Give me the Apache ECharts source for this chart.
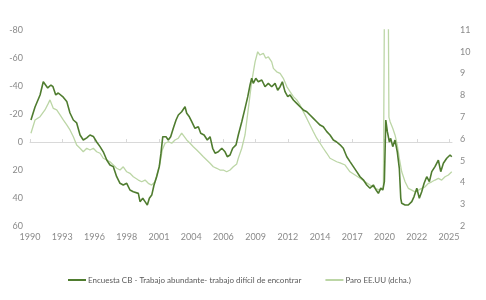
<!DOCTYPE html>
<html>
<head>
<meta charset="utf-8">
<script src="https://cdn.jsdelivr.net/npm/echarts@6/dist/echarts.min.js"></script>
<style>html,body{margin:0;padding:0;background:#fff;}#c{width:486px;height:300px;}</style>
</head>
<body>
<div id="c"></div>
<script>
// X tick labels (evenly spaced across 1990–2025)
var tickLabels = ['1990','1993','1996','1998','2001','2004','2006','2009','2012','2014','2017','2020','2022','2025'];

// Encuesta CB (left axis, inverted)
var cbYears = [1990.08,1990.42,1990.84,1991.11,1991.25,1991.48,1991.75,1991.92,1992.15,1992.36,1992.78,1993.07,1993.34,1993.62,1993.90,1994.18,1994.45,1994.74,1995.01,1995.29,1995.57,1995.85,1996.12,1996.41,1996.68,1996.96,1997.24,1997.52,1997.79,1998.08,1998.35,1998.63,1999.05,1999.19,1999.42,1999.61,1999.80,1999.97,2000.17,2000.36,2000.58,2000.80,2000.94,2001.09,2001.19,2001.36,2001.55,2001.75,2001.97,2002.20,2002.39,2002.67,2002.81,2002.95,2003.09,2003.31,2003.51,2003.78,2004.06,2004.26,2004.54,2004.81,2005.04,2005.26,2005.46,2005.73,2006.02,2006.29,2006.48,2006.71,2006.93,2007.21,2007.40,2007.69,2007.96,2008.19,2008.38,2008.52,2008.65,2008.86,2009.07,2009.36,2009.63,2009.91,2010.19,2010.47,2010.69,2010.89,2011.08,2011.30,2011.53,2011.72,2012.00,2012.28,2012.56,2012.83,2013.12,2013.39,2013.67,2013.95,2014.23,2014.50,2014.79,2015.06,2015.34,2015.62,2015.90,2016.17,2016.46,2016.73,2017.01,2017.29,2017.57,2017.84,2018.13,2018.40,2018.68,2018.91,2019.10,2019.30,2019.47,2019.60,2019.72,2019.85,2020.02,2020.13,2020.30,2020.49,2020.68,2020.85,2020.97,2021.05,2021.33,2021.60,2021.75,2021.89,2022.08,2022.31,2022.52,2022.72,2022.92,2023.14,2023.36,2023.56,2023.83,2024.11,2024.31,2024.53,2024.81,2025.09,2025.23];
var cbValues = [-15.7,-25,-33.6,-43,-44,-38.6,-40.7,-39.5,-33.6,-35,-32,-29,-20.7,-15.7,-13.6,-5,-1.4,-3,-5,-4,0,3.3,7,12.9,16.4,17.6,24.8,29.5,30.7,29.5,34.3,35.5,36.7,42.6,40.2,42.6,45,40.2,37.9,30.7,24.8,17.6,8,-3.8,-5,-3.8,-1.4,-3.8,-9.8,-15.7,-19.3,-21.6,-21.6,-25.2,-20.5,-18,-14.5,-9.8,-10.9,-6.2,-5,-1.4,-3.8,4.5,8,7,4.5,7,10.5,9.3,4.5,2.1,-5,-14.5,-24,-32.4,-40.7,-45.5,-41.9,-45.5,-43,-44.3,-39.5,-41.9,-39.5,-41.9,-37,-39.5,-43,-36,-32.4,-33.6,-30,-27.6,-25.2,-22.9,-21.6,-19.3,-16.9,-14.5,-12.1,-10.9,-7.4,-5,-1.4,0,2,4.5,10.5,14,17.6,21.2,24.8,27,30.7,33,30.7,34.3,36.7,33,34.3,28.3,-15.7,-7.4,0,-2.6,3.3,-1.4,7,18.8,40.2,43.8,45,45,46.2,42.6,39,33,40.2,35.5,29.5,24.8,28.3,21.2,17.6,12.9,21.2,15.2,11.6,9.3,10.5];

// Paro EE.UU (right axis)
var uYears = [1990.08,1990.42,1990.84,1991.25,1991.53,1991.67,1991.95,1992.23,1992.51,1992.78,1993.07,1993.34,1993.62,1993.90,1994.18,1994.45,1994.74,1995.01,1995.29,1995.57,1995.85,1996.12,1996.41,1996.68,1996.96,1997.24,1997.52,1997.79,1998.08,1998.35,1998.63,1998.77,1999.05,1999.33,1999.61,1999.88,2000.17,2000.44,2000.63,2000.86,2001.05,2001.28,2001.55,2001.84,2002.11,2002.39,2002.67,2002.81,2003.09,2003.37,2003.64,2003.93,2004.20,2004.48,2004.76,2005.04,2005.31,2005.60,2005.87,2006.15,2006.43,2006.71,2006.98,2007.27,2007.40,2007.69,2007.96,2008.24,2008.52,2008.80,2009.02,2009.21,2009.49,2009.69,2009.91,2010.19,2010.33,2010.61,2010.89,2011.16,2011.45,2011.72,2012.00,2012.28,2012.56,2012.83,2013.12,2013.39,2013.67,2013.95,2014.23,2014.50,2014.79,2015.06,2015.34,2015.62,2015.90,2016.32,2016.73,2017.15,2017.57,2017.99,2018.40,2018.82,2019.24,2019.52,2019.63,2019.75,2019.92,2019.98,2020.08,2020.30,2020.49,2020.68,2020.85,2021.05,2021.33,2021.60,2021.89,2022.16,2022.44,2022.72,2023.00,2023.28,2023.56,2023.83,2024.11,2024.39,2024.67,2024.95,2025.23];
var uValues = [6.26,6.87,7.02,7.33,7.63,7.79,7.4,7.33,7.1,6.87,6.64,6.41,6.1,5.72,5.57,5.41,5.57,5.49,5.57,5.41,5.34,5.11,5.03,4.95,4.8,4.65,4.57,4.72,4.49,4.42,4.26,4.19,4.11,4.03,4.11,3.96,3.88,4.03,4.42,4.88,5.49,5.8,5.87,5.8,5.95,6.03,6.26,6.18,5.95,5.8,5.64,5.49,5.34,5.18,5.03,4.88,4.72,4.65,4.57,4.57,4.49,4.57,4.72,4.85,5.11,5.57,6.18,7.4,8.63,9.54,10.0,9.85,9.93,9.7,9.77,9.54,9.24,9.08,9.01,8.78,8.4,8.17,7.94,7.79,7.56,7.25,6.94,6.64,6.33,6.03,5.8,5.57,5.34,5.11,5.03,4.95,4.9,4.8,4.49,4.34,4.19,4.03,3.88,3.73,3.65,3.73,14.7,14.0,13.0,7.0,6.79,6.49,6.18,5.72,5.11,4.49,4.03,3.73,3.65,3.57,3.65,3.73,3.8,3.96,4.03,4.11,4.19,4.11,4.26,4.34,4.49];

var xMin = 1990, xLastLabel = 2025, xMax = 2025.25;
var tickPos = tickLabels.map(function (_, i) { return xMin + i * (xLastLabel - xMin) / (tickLabels.length - 1); });

function zip(a, b) { return a.map(function (v, i) { return [v, b[i]]; }); }

var labelStyle = { color: '#8a8a8a', fontSize: 9, fontFamily: 'Lato' };
var cbName = 'Encuesta CB - Trabajo abundante- trabajo difícil de encontrar';
var uName = 'Paro EE.UU (dcha.)';

var chart = echarts.init(document.getElementById('c'));
chart.setOption({
  animation: false,
  backgroundColor: '#ffffff',
  grid: { left: 30, right: 34, top: 30, bottom: 74, containLabel: false },
  xAxis: [{
    type: 'value', min: xMin, max: xMax,
    axisLine: { show: false }, axisTick: { show: false }, splitLine: { show: false },
    axisLabel: Object.assign({
      customValues: tickPos, margin: 7,
      formatter: function (v) {
        for (var i = 0; i < tickPos.length; i++) { if (Math.abs(tickPos[i] - v) < 0.01) return tickLabels[i]; }
        return '';
      }
    }, labelStyle)
  }, {
    type: 'value', min: xMin, max: xMax, position: 'bottom',
    axisLine: { show: true, onZero: true, onZeroAxisIndex: 0, lineStyle: { color: '#d9d9d9', width: 1 } },
    axisTick: { show: true, inside: true, length: 3, customValues: tickPos, lineStyle: { color: '#d9d9d9' } },
    axisLabel: { show: false }, splitLine: { show: false }
  }],
  yAxis: [{
    type: 'value', min: -80, max: 60, interval: 20, inverse: true, position: 'left',
    axisLine: { show: false }, axisTick: { show: false }, splitLine: { show: false },
    axisLabel: Object.assign({ margin: 7 }, labelStyle)
  }, {
    type: 'value', min: 2, max: 11, interval: 1, position: 'right',
    axisLine: { show: false }, axisTick: { show: false }, splitLine: { show: false },
    axisLabel: Object.assign({ margin: 8 }, labelStyle)
  }],
  legend: {
    bottom: 11, left: 63, itemWidth: 18, itemHeight: 2, itemGap: 24,
    textStyle: { color: '#595959', fontSize: 8, fontFamily: 'Lato', padding: [0, 0, 0, -3] },
    data: [
      { name: cbName, icon: 'rect', itemStyle: { color: '#4f7c2f' } },
      { name: uName, icon: 'rect', itemStyle: { color: '#bcd6a6' } }
    ]
  },
  series: [{
    name: uName, type: 'line', xAxisIndex: 0, yAxisIndex: 1,
    data: zip(uYears, uValues), symbol: 'none', clip: true,
    lineStyle: { color: '#bcd6a6', width: 1.3 }, itemStyle: { color: '#bcd6a6' }
  }, {
    name: cbName, type: 'line', xAxisIndex: 0, yAxisIndex: 0,
    data: zip(cbYears, cbValues), symbol: 'none', clip: true,
    lineStyle: { color: '#4f7c2f', width: 1.6 }, itemStyle: { color: '#4f7c2f' }
  }]
});
</script>
</body>
</html>
